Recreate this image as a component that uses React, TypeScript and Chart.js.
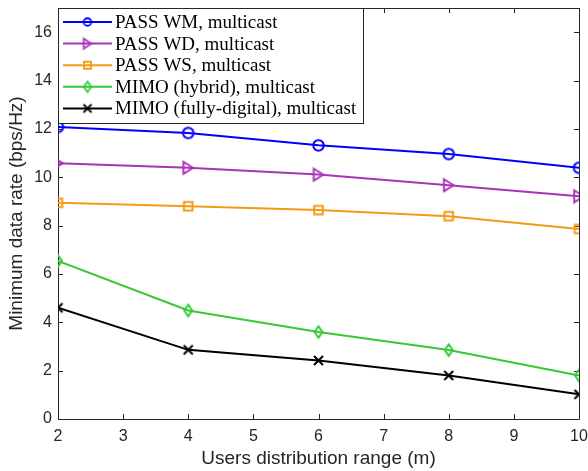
import React, { useEffect, useRef } from "react";
import { Chart, registerables } from "chart.js";

Chart.register(...registerables);

const xValues = [2, 4, 6, 8, 10];
const passWM = [12.08, 11.83, 11.32, 10.96, 10.39];
const passWD = [10.58, 10.39, 10.11, 9.67, 9.21];
const passWS = [8.94, 8.8, 8.64, 8.39, 7.86];
const mimoHybrid = [6.54, 4.49, 3.6, 2.85, 1.8];
const mimoDigital = [4.6, 2.86, 2.42, 1.8, 1.02];
const seriesLabels = [
  "PASS WM, multicast",
  "PASS WD, multicast",
  "PASS WS, multicast",
  "MIMO (hybrid), multicast",
  "MIMO (fully-digital), multicast",
];
const xTicks = [2, 3, 4, 5, 6, 7, 8, 9, 10];
const yTicks = [0, 2, 4, 6, 8, 10, 12, 14, 16];
const xTitle = "Users distribution range (m)";
const yTitle = "Minimum data rate (bps/Hz)";

const COLORS = ["#0000ff", "#a933b8", "#f39b14", "#36c936", "#000000"];
const KINDS = ["circle", "triR", "square", "diamond", "cross"];

function makeMarker(kind: string, color: string, w: number, h: number, lw: number) {
  const pad = Math.ceil(lw) + 2;
  const cw = Math.ceil(w) + pad * 2;
  const ch = Math.ceil(h) + pad * 2;
  const c = document.createElement("canvas");
  c.width = cw;
  c.height = ch;
  const ctx = c.getContext("2d")!;
  ctx.translate(cw / 2, ch / 2);
  ctx.strokeStyle = color;
  ctx.lineWidth = lw;
  ctx.lineJoin = "miter";
  ctx.beginPath();
  if (kind === "circle") {
    ctx.arc(0, 0, w / 2, 0, Math.PI * 2);
  } else if (kind === "triR") {
    ctx.moveTo(-w / 2, -h / 2);
    ctx.lineTo(w / 2, 0);
    ctx.lineTo(-w / 2, h / 2);
    ctx.closePath();
  } else if (kind === "square") {
    ctx.rect(-w / 2, -h / 2, w, h);
  } else if (kind === "diamond") {
    ctx.moveTo(0, -h / 2);
    ctx.lineTo(w / 2, 0);
    ctx.lineTo(0, h / 2);
    ctx.lineTo(-w / 2, 0);
    ctx.closePath();
  } else if (kind === "cross") {
    ctx.moveTo(-w / 2, -h / 2);
    ctx.lineTo(w / 2, h / 2);
    ctx.moveTo(w / 2, -h / 2);
    ctx.lineTo(-w / 2, h / 2);
  }
  ctx.stroke();
  return c;
}

const PLOT_SIZES: number[][] = [
  [10.5, 10.5],
  [9.5, 12],
  [8.5, 8.5],
  [8, 11.5],
  [9, 9],
];
const LEGEND_SIZES: number[][] = [
  [7.5, 7.5],
  [7.5, 10],
  [7, 7],
  [7.5, 10.5],
  [8, 8],
];

export default function App() {
  const ref = useRef<HTMLCanvasElement>(null);

  useEffect(() => {
    document.body.style.margin = "0";
    const plotMarkers = KINDS.map((k, i) => makeMarker(k, COLORS[i], PLOT_SIZES[i][0], PLOT_SIZES[i][1], 2));
    const legendMarkers = KINDS.map((k, i) => makeMarker(k, COLORS[i], LEGEND_SIZES[i][0], LEGEND_SIZES[i][1], 1.8));
    const allSeries = [passWM, passWD, passWS, mimoHybrid, mimoDigital];

    const frameColor = "#262626";

    const framePlugin = {
      id: "frame",
      beforeDatasetsDraw(chart: any) {
        const { ctx, chartArea } = chart;
        const { left, right, top, bottom } = chartArea;
        const xs = chart.scales.x;
        const ys = chart.scales.y;
        ctx.save();
        ctx.strokeStyle = frameColor;
        ctx.lineWidth = 1;
        ctx.beginPath();
        ctx.rect(Math.round(left) + 0.5, Math.round(top) + 0.5, Math.round(right - left), Math.round(bottom - top));
        const tl = 5;
        xTicks.forEach((v) => {
          const px = Math.round(xs.getPixelForValue(v)) + 0.5;
          ctx.moveTo(px, bottom);
          ctx.lineTo(px, bottom - tl);
          ctx.moveTo(px, top);
          ctx.lineTo(px, top + tl);
        });
        yTicks.forEach((v) => {
          const py = Math.round(ys.getPixelForValue(v)) + 0.5;
          ctx.moveTo(left, py);
          ctx.lineTo(left + tl, py);
          ctx.moveTo(right, py);
          ctx.lineTo(right - tl, py);
        });
        ctx.stroke();
        ctx.restore();
      },
    };

    const legendPlugin = {
      id: "customLegend",
      afterDatasetsDraw(chart: any) {
        const { ctx, chartArea } = chart;
        const x0 = Math.round(chartArea.left) + 0.5;
        const y0 = Math.round(chartArea.top) + 0.5;
        const w = 305;
        const h = 115;
        ctx.save();
        ctx.fillStyle = "#ffffff";
        ctx.fillRect(x0, y0, w, h);
        ctx.strokeStyle = frameColor;
        ctx.lineWidth = 1;
        ctx.strokeRect(x0, y0, w, h);
        ctx.font = '19px "Liberation Serif", "Times New Roman", serif';
        ctx.textBaseline = "middle";
        ctx.textAlign = "left";
        chart.data.datasets.forEach((ds: any, i: number) => {
          const cy = 22 + i * 21.6;
          ctx.strokeStyle = ds.borderColor;
          ctx.lineWidth = 2;
          ctx.beginPath();
          ctx.moveTo(63, cy);
          ctx.lineTo(112, cy);
          ctx.stroke();
          const m = legendMarkers[i];
          ctx.drawImage(m, 87.5 - m.width / 2, cy - m.height / 2);
          ctx.fillStyle = "#000000";
          ctx.fillText(ds.label, 115, cy + 1);
        });
        ctx.restore();
      },
    };

    const zeroPad = (scale: any) => {
      scale.paddingLeft = 0;
      scale.paddingRight = 0;
      scale.paddingTop = 0;
      scale.paddingBottom = 0;
    };

    const chart = new Chart(ref.current!, {
      type: "line",
      data: {
        datasets: allSeries.map((s, i) => ({
          label: seriesLabels[i],
          data: xValues.map((x, j) => ({ x, y: s[j] })),
          borderColor: COLORS[i],
          backgroundColor: COLORS[i],
          borderWidth: 2,
          pointStyle: plotMarkers[i] as any,
          pointRadius: 6,
          tension: 0,
        })),
      },
      options: {
        animation: false,
        responsive: true,
        maintainAspectRatio: false,
        layout: { padding: { top: 8, right: 9, left: 0, bottom: 0 } },
        plugins: {
          legend: { display: false },
          tooltip: { enabled: false },
        },
        scales: {
          x: {
            type: "linear",
            min: 2,
            max: 10,
            afterBuildTicks: (scale: any) => {
              scale.ticks = xTicks.map((v) => ({ value: v }));
            },
            afterFit: (scale: any) => {
              scale.height = 52;
              zeroPad(scale);
            },
            grid: { display: false, drawTicks: false },
            border: { display: false },
            ticks: {
              padding: 8,
              color: "#262626",
              font: { family: '"Liberation Sans", Arial, sans-serif', size: 16 },
              maxRotation: 0,
            },
            title: {
              display: true,
              text: xTitle,
              color: "#262626",
              font: { family: '"Liberation Sans", Arial, sans-serif', size: 19 },
              padding: { top: 0, bottom: 1 },
            },
          },
          y: {
            type: "linear",
            min: 0,
            max: 17,
            afterBuildTicks: (scale: any) => {
              scale.ticks = yTicks.map((v) => ({ value: v }));
            },
            afterFit: (scale: any) => {
              scale.width = 58;
              zeroPad(scale);
            },
            grid: { display: false, drawTicks: false },
            border: { display: false },
            ticks: {
              padding: 6,
              color: "#262626",
              font: { family: '"Liberation Sans", Arial, sans-serif', size: 16 },
            },
            title: {
              display: true,
              text: yTitle,
              color: "#262626",
              font: { family: '"Liberation Sans", Arial, sans-serif', size: 19 },
              padding: { top: 5, bottom: 0 },
            },
          },
        },
      },
      plugins: [framePlugin, legendPlugin],
    });
    return () => chart.destroy();
  }, []);

  return (
    <div style={{ position: "relative", width: 588, height: 471 }}>
      <canvas ref={ref} />
    </div>
  );
}
